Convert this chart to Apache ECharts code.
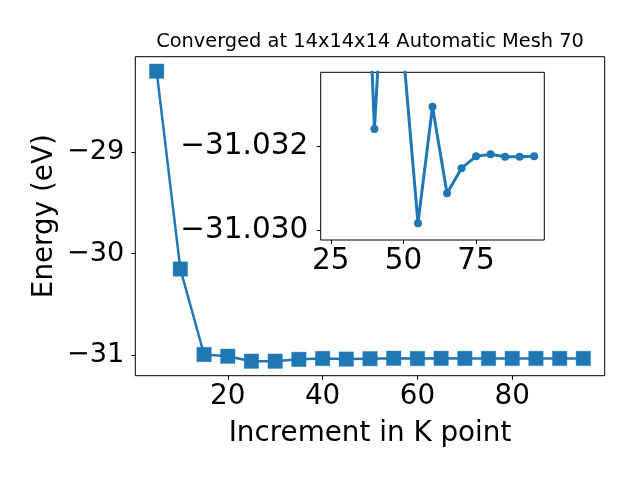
<!DOCTYPE html>
<html>
<head>
<meta charset="utf-8">
<script src="https://cdn.jsdelivr.net/npm/echarts@6/dist/echarts.min.js"></script>
<style>html,body{margin:0;padding:0;background:#fff}#c{width:640px;height:480px}</style>
</head>
<body>
<div id="c"></div>
<script>
const kPoints = [5,10,15,20,25,30,35,40,45,50,55,60,65,70,75,80,85,90,95];
const energy = [-28.202,-30.151,-30.993,-31.010,-31.059,-31.059,-31.041,-31.03241,-31.0385,-31.0342,-31.03017,-31.03294,-31.03088,-31.03148,-31.03176,-31.03181,-31.03175,-31.03175,-31.03176];
const mainXTicks = [20,40,60,80];
const mainYTicks = [-31,-30,-29];
const insetXTicks = [25,50,75];
const insetYTicks = [-31.032,-31.030];
const insetStart = 4; // inset shows from k=25
const titleText = 'Converged at 14x14x14 Automatic Mesh 70';

const FONT = 'DejaVu Sans';
const C = '#1f77b4';
const fmtMinus = s => String(s).replace('-', '\u2212');

const mainData = kPoints.map((k,i)=>[k, energy[i]]);
const insetData = kPoints.slice(insetStart).map((k,i)=>[k, energy[i+insetStart]]);

const chart = echarts.init(document.getElementById('c'), null, {renderer:'canvas'});
chart.setOption({
  animation:false,
  backgroundColor:'#fff',
  textStyle:{fontFamily:FONT},
  graphic:[{
    type:'text', x:370, y:42, z:100,
    style:{text:titleText, font:'19.4px "DejaVu Sans"', fill:'#000', align:'center', verticalAlign:'middle', textAlign:'center', textVerticalAlign:'middle'}
  }],
  grid:[
    {left:135.3, top:56.7, right:35.3, bottom:104.3, show:true, borderColor:'#000', borderWidth:1, backgroundColor:'transparent'},
    {left:320.7, top:72.3, width:223.6, height:167.7, show:true, borderColor:'#000', borderWidth:1, backgroundColor:'#fff', z:5}
  ],
  xAxis:[
    {gridIndex:0, type:'value', min:0.5, max:99.5,
     name:'Increment in K point', nameLocation:'middle', nameGap:44, nameMoveOverlap:false,
     nameTextStyle:{fontSize:27.8, color:'#000', fontFamily:FONT},
     axisLine:{show:false}, splitLine:{show:false},
     axisTick:{show:true, inside:false, length:4, lineStyle:{color:'#000'}, customValues:mainXTicks},
     axisLabel:{fontSize:27.8, color:'#000', margin:7, customValues:mainXTicks, fontFamily:FONT}},
    {gridIndex:1, type:'value', min:21.5, max:98.5,
     axisLine:{show:false}, splitLine:{show:false},
     axisTick:{show:true, length:4, lineStyle:{color:'#000'}, customValues:insetXTicks},
     axisLabel:{fontSize:29.5, color:'#000', margin:6, customValues:insetXTicks, fontFamily:FONT}}
  ],
  yAxis:[
    {gridIndex:0, type:'value', min:-31.2019, max:-28.059,
     name:'Energy (eV)', nameLocation:'middle', nameGap:77, nameRotate:90, nameMoveOverlap:false,
     nameTextStyle:{fontSize:27.8, color:'#000', fontFamily:FONT},
     axisLine:{show:false}, splitLine:{show:false},
     axisTick:{show:true, length:4, lineStyle:{color:'#000'}, customValues:mainYTicks},
     axisLabel:{fontSize:27.2, color:'#000', margin:11, customValues:mainYTicks, fontFamily:FONT, formatter:v=>fmtMinus(Math.round(v))}},
    {gridIndex:1, type:'value', inverse:true, min:-31.03376, max:-31.02977,
     axisLine:{show:false}, splitLine:{show:false},
     axisTick:{show:true, length:4, lineStyle:{color:'#000'}, customValues:insetYTicks},
     axisLabel:{fontSize:29.5, color:'#000', margin:12.5, customValues:insetYTicks, fontFamily:FONT, formatter:v=>fmtMinus(v.toFixed(3))}}
  ],
  series:[
    {type:'line', xAxisIndex:0, yAxisIndex:0, data:mainData, clip:true,
     symbol:'rect', symbolSize:14.5, showAllSymbol:true,
     lineStyle:{color:C, width:2.5}, itemStyle:{color:C, borderColor:'rgba(31,119,180,0.35)', borderWidth:1}},
    {type:'line', xAxisIndex:1, yAxisIndex:1, data:insetData, clip:true, z:6,
     symbol:'circle', symbolSize:8, showAllSymbol:true,
     lineStyle:{color:C, width:3}, itemStyle:{color:C}}
  ]
});
</script>
</body>
</html>
